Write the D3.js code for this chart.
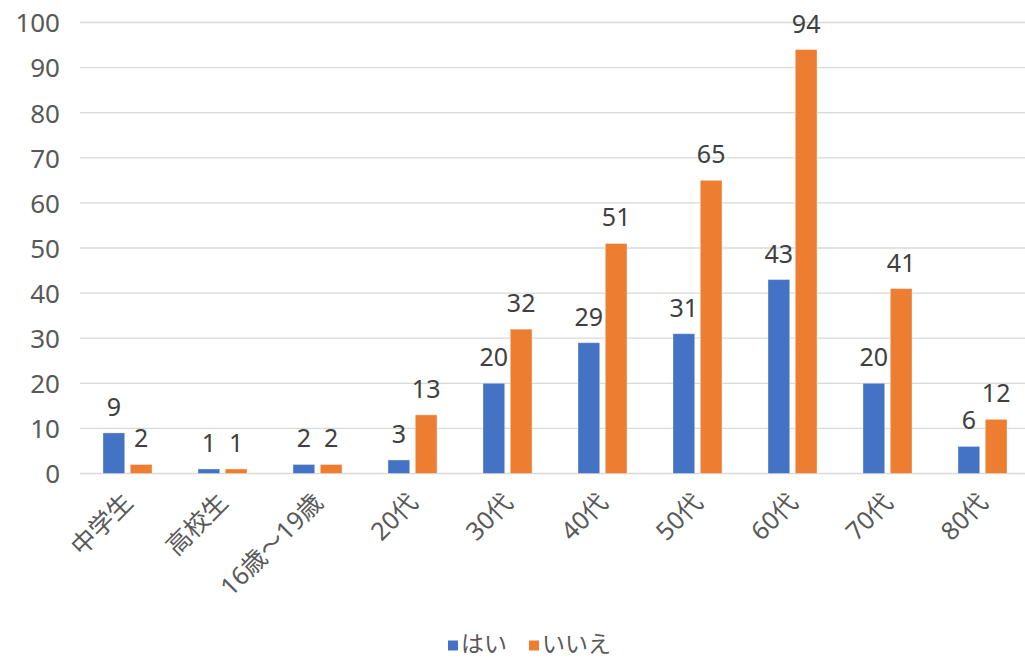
<!DOCTYPE html>
<html><head><meta charset="utf-8">
<script src="https://cdn.jsdelivr.net/npm/d3@7/dist/d3.min.js"></script>
<style>body{margin:0;background:#fff}svg{display:block}text{font-family:"Noto Sans","Noto Sans CJK JP",sans-serif}</style>
</head><body><svg id="c" width="1025" height="659"></svg>
<script>
const categories = ["中学生","高校生","16歳～19歳","20代","30代","40代","50代","60代","70代","80代"];
const seriesNames = ["はい","いいえ"];
const hai = [9,1,2,3,20,29,31,43,20,6];
const iie = [2,1,2,13,32,51,65,94,41,12];
const yTicks = [0,10,20,30,40,50,60,70,80,90,100];
const colors = ["#4472C4","#ED7D31"];
const FONT = '"Noto Sans","Noto Sans CJK JP",sans-serif';

const svg = d3.select("#c");
const x0 = d3.scaleBand().domain(categories).range([80, 1030]).padding(0);
const x1 = d3.scaleBand().domain(seriesNames).range([23, 72]).paddingInner(0.205).paddingOuter(0);
const y = d3.scaleLinear().domain([0,100]).range([473.5, 22.5]);

// gridlines
svg.append("g").selectAll("line").data(yTicks).join("line")
  .attr("x1",80).attr("x2",1025).attr("y1",d=>y(d)).attr("y2",d=>y(d))
  .attr("stroke","#D9D9D9").attr("stroke-width",1.3);

// y axis labels
const yAxis = d3.axisLeft(y).tickValues(yTicks).tickSize(0).tickPadding(0);
const ya = svg.append("g").attr("transform","translate(60,0)").call(yAxis);
ya.select(".domain").remove();
ya.selectAll("text").attr("fill","#595959").attr("font-size",26).attr("dy","0.36em")
  .style("font-family",FONT);

const series = [hai, iie];
const groups = svg.append("g").selectAll("g").data(categories).join("g")
  .attr("transform", d=>`translate(${x0(d)},0)`);

groups.selectAll("rect").data((d,i)=>series.map((s,k)=>({k, v:s[i]}))).join("rect")
  .attr("x", d=>x1(seriesNames[d.k])).attr("width", x1.bandwidth())
  .attr("y", d=>y(d.v)).attr("height", d=>y(0)-y(d.v))
  .attr("fill", d=>colors[d.k]).attr("stroke","#ffffff").attr("stroke-opacity",0.35).attr("stroke-width",1);

groups.selectAll("text.lbl").data((d,i)=>series.map((s,k)=>({k, v:s[i]}))).join("text")
  .attr("class","lbl")
  .attr("x", d=>x1(seriesNames[d.k]) + x1.bandwidth()/2)
  .attr("y", d=>y(d.v) - 17)
  .attr("text-anchor","middle").attr("font-size",25).attr("fill","#404040")
  .text(d=>d.v);

// x axis labels
const xAxis = d3.axisBottom(x0).tickSize(0).tickPadding(0);
const xa = svg.append("g").call(xAxis);
xa.select(".domain").remove();
xa.selectAll(".tick").attr("transform", d=>`translate(${x0(d)+x0.bandwidth()/2},0)`);
xa.selectAll("text")
  .attr("y",null).attr("dy",null)
  .attr("text-anchor","end")
  .attr("transform","translate(7,504) rotate(-45)")
  .attr("fill","#595959").attr("font-size",25)
  .style("font-family",FONT);

// legend
const legX = [448, 529];
const lg = svg.append("g").selectAll("g").data(seriesNames).join("g")
  .attr("transform",(d,i)=>`translate(${legX[i]},0)`);
lg.append("rect").attr("x",0).attr("y",640.5).attr("width",10).attr("height",10).attr("fill",(d,i)=>colors[i]);
lg.append("text").attr("x",13).attr("y",652).attr("font-size",23).attr("fill","#595959").text(d=>d);
</script></body></html>
